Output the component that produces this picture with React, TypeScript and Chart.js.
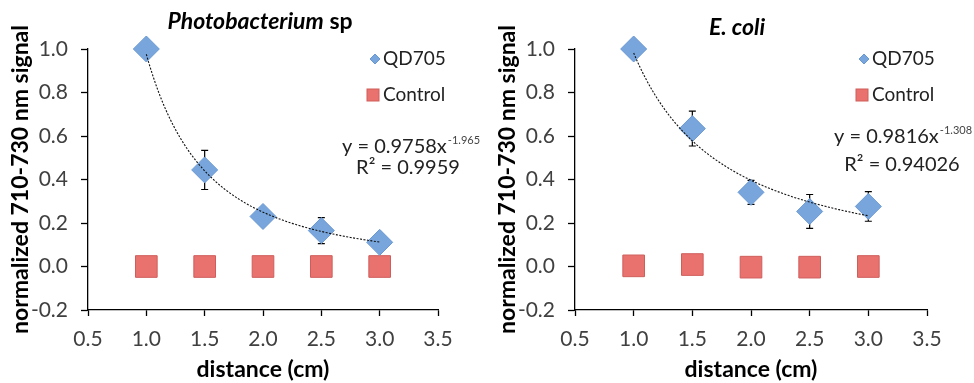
import React, { useEffect, useRef } from "react";
import { Chart, registerables } from "chart.js";

Chart.register(...registerables);

// ---------- data ----------
const distances = [1.0, 1.5, 2.0, 2.5, 3.0];

const photoQD705 = [1.0, 0.444, 0.23, 0.165, 0.111];
const photoQD705Err = [0, 0.09, 0.01, 0.06, 0.03];
const photoControl = [0.0, 0.0, 0.0, 0.0, 0.0];

const ecoliQD705 = [1.0, 0.634, 0.341, 0.253, 0.276];
const ecoliQD705Err = [0, 0.08, 0.055, 0.078, 0.068];
const ecoliControl = [0.003, 0.009, -0.003, -0.003, 0.0];

const photoFitA = 0.9758;
const photoFitB = -1.965;
const photoFitEq = "y = 0.9758x";
const photoFitExp = "-1.965";
const photoR2 = "R² = 0.9959";

const ecoliFitA = 0.9816;
const ecoliFitB = -1.308;
const ecoliFitEq = "y = 0.9816x";
const ecoliFitExp = "-1.308";
const ecoliR2 = "R² = 0.94026";

const seriesNames = ["QD705", "Control"];
const xAxisTitle = "distance (cm)";
const yAxisTitle = "normalized 710-730 nm signal";

const FONT = "Lato, 'Open Sans', sans-serif";
const QD_FILL = "#78a6dc";
const QD_BORDER = "#6a98d2";
const CT_FILL = "#e9726f";
const CT_BORDER = "#cf5e5b";

type TitlePart = { text: string; italic: boolean };

type Panel = {
  titleParts: TitlePart[];
  titleX: number;
  titleY: number;
  qd: number[];
  qdErr: number[];
  control: number[];
  fitA: number;
  fitB: number;
  eq: string;
  eqExp: string;
  r2: string;
  eqX: number;
  eqY: number;
  r2X: number;
  r2Y: number;
  padRight: number;
};

const panels: Panel[] = [
  {
    titleParts: [
      { text: "Photobacterium", italic: true },
      { text: " sp", italic: false },
    ],
    titleX: 260,
    titleY: 22,
    qd: photoQD705,
    qdErr: photoQD705Err,
    control: photoControl,
    fitA: photoFitA,
    fitB: photoFitB,
    eq: photoFitEq,
    eqExp: photoFitExp,
    r2: photoR2,
    eqX: 342,
    eqY: 147,
    r2X: 408,
    r2Y: 168,
    padRight: 49,
  },
  {
    titleParts: [{ text: "E. coli", italic: true }],
    titleX: 250,
    titleY: 28,
    qd: ecoliQD705,
    qdErr: ecoliQD705Err,
    control: ecoliControl,
    fitA: ecoliFitA,
    fitB: ecoliFitB,
    eq: ecoliFitEq,
    eqExp: ecoliFitExp,
    r2: ecoliR2,
    eqX: 347,
    eqY: 137,
    r2X: 415,
    r2Y: 165,
    padRight: 47,
  },
];

function fmt(v: any) {
  const n = Number(v);
  return (Math.abs(n) < 1e-9 ? 0 : n).toFixed(1);
}

function makeDecorPlugin(p: Panel) {
  return {
    id: "panelDecor",
    beforeDatasetsDraw(chart: any) {
      const ctx = chart.ctx as CanvasRenderingContext2D;
      const xs = chart.scales.x;
      const ys = chart.scales.y;
      ctx.save();
      // error bars (behind markers)
      ctx.strokeStyle = "#000";
      ctx.lineWidth = 1.2;
      distances.forEach((d, i) => {
        const e = p.qdErr[i];
        if (!e) return;
        const px = xs.getPixelForValue(d);
        const top = ys.getPixelForValue(p.qd[i] + e);
        const bot = ys.getPixelForValue(p.qd[i] - e);
        ctx.beginPath();
        ctx.moveTo(px, top);
        ctx.lineTo(px, bot);
        ctx.moveTo(px - 3.5, top);
        ctx.lineTo(px + 3.5, top);
        ctx.moveTo(px - 3.5, bot);
        ctx.lineTo(px + 3.5, bot);
        ctx.stroke();
      });
      ctx.restore();
    },
    afterDatasetsDraw(chart: any) {
      const ctx = chart.ctx as CanvasRenderingContext2D;
      const xs = chart.scales.x;
      const ys = chart.scales.y;
      ctx.save();
      // power-law trendline from the fitted equation
      const x0 = distances[0];
      const x1 = distances[distances.length - 1];
      ctx.setLineDash([2, 1.5]);
      ctx.lineWidth = 1.1;
      ctx.strokeStyle = "#111";
      ctx.beginPath();
      const n = 120;
      for (let k = 0; k <= n; k++) {
        const xv = x0 + ((x1 - x0) * k) / n;
        const yv = p.fitA * Math.pow(xv, p.fitB);
        const px = xs.getPixelForValue(xv);
        const py = ys.getPixelForValue(yv);
        if (k === 0) ctx.moveTo(px, py);
        else ctx.lineTo(px, py);
      }
      ctx.stroke();
      ctx.setLineDash([]);
      ctx.restore();
    },
    afterDraw(chart: any) {
      const ctx = chart.ctx as CanvasRenderingContext2D;
      const area = chart.chartArea;
      ctx.save();
      // title
      ctx.fillStyle = "#000";
      ctx.textBaseline = "middle";
      let total = 0;
      const widths = p.titleParts.map((tp) => {
        ctx.font = `${tp.italic ? "italic " : ""}bold 23px ${FONT}`;
        const w = ctx.measureText(tp.text).width;
        total += w;
        return w;
      });
      let tx = p.titleX - total / 2;
      p.titleParts.forEach((tp, i) => {
        ctx.font = `${tp.italic ? "italic " : ""}bold 23px ${FONT}`;
        ctx.textAlign = "left";
        ctx.fillText(tp.text, tx, p.titleY);
        tx += widths[i];
      });

      // legend
      const mx = area.right - 63;
      const tx2 = area.right - 55;
      const ly1 = 59;
      const ly2 = 95;
      ctx.fillStyle = QD_FILL;
      ctx.strokeStyle = QD_BORDER;
      ctx.lineWidth = 1;
      ctx.beginPath();
      ctx.moveTo(mx, ly1 - 5);
      ctx.lineTo(mx + 5, ly1);
      ctx.lineTo(mx, ly1 + 5);
      ctx.lineTo(mx - 5, ly1);
      ctx.closePath();
      ctx.fill();
      ctx.stroke();
      ctx.fillStyle = CT_FILL;
      ctx.strokeStyle = CT_BORDER;
      ctx.fillRect(mx - 8, ly2 - 6, 12, 12);
      ctx.strokeRect(mx - 8, ly2 - 6, 12, 12);
      ctx.fillStyle = "#222";
      ctx.font = `19px ${FONT}`;
      ctx.textAlign = "left";
      ctx.fillText(chart.data.datasets[0].label, tx2, ly1);
      ctx.fillText(chart.data.datasets[1].label, tx2, ly2);

      // equation
      ctx.font = `20px ${FONT}`;
      ctx.fillStyle = "#222";
      ctx.fillText(p.eq, p.eqX, p.eqY);
      const ew = ctx.measureText(p.eq).width;
      ctx.font = `11px ${FONT}`;
      ctx.fillStyle = "#444";
      ctx.fillText(p.eqExp, p.eqX + ew + 1, p.eqY - 7);
      ctx.font = `20px ${FONT}`;
      ctx.fillStyle = "#222";
      ctx.textAlign = "center";
      ctx.fillText(p.r2, p.r2X, p.r2Y);
      ctx.restore();
    },
  };
}

function ChartPanel({ p }: { p: Panel }) {
  const ref = useRef<HTMLCanvasElement | null>(null);
  useEffect(() => {
    if (!ref.current) return;
    const tickFont = { family: FONT, size: 21 };
    const titleFont = { family: FONT, size: 23, weight: "bold" as const };
    const chart = new Chart(ref.current, {
      type: "scatter",
      data: {
        datasets: [
          {
            label: seriesNames[0],
            data: distances.map((d, i) => ({ x: d, y: p.qd[i] })),
            pointStyle: "rectRot",
            pointRadius: 13,
            backgroundColor: QD_FILL,
            borderColor: QD_BORDER,
            borderWidth: 1,
            clip: false as any,
          },
          {
            label: seriesNames[1],
            data: distances.map((d, i) => ({ x: d, y: p.control[i] })),
            pointStyle: "rect",
            pointRadius: 15.3,
            backgroundColor: CT_FILL,
            borderColor: CT_BORDER,
            borderWidth: 1,
            clip: false as any,
          },
        ],
      },
      options: {
        responsive: false,
        animation: false,
        events: [],
        layout: { padding: { top: 49, right: p.padRight, left: 0, bottom: 0 } },
        plugins: {
          legend: { display: false },
          title: { display: false },
          tooltip: { enabled: false },
        },
        scales: {
          x: {
            type: "linear",
            min: 0.5,
            max: 3.5,
            afterFit: (axis: any) => {
              axis.height = 73;
            },
            ticks: {
              stepSize: 0.5,
              font: tickFont,
              color: "#404040",
              padding: 11,
              maxRotation: 0,
              callback: (v: any) => fmt(v),
            },
            grid: {
              drawOnChartArea: false,
              drawTicks: true,
              tickLength: 6,
              tickColor: "#000",
              tickWidth: 1.3,
            },
            border: { display: true, color: "#000", width: 1.3 },
            title: {
              display: true,
              text: xAxisTitle,
              font: titleFont,
              color: "#000",
              padding: { top: 0, bottom: 0 },
            },
          },
          y: {
            type: "linear",
            min: -0.2,
            max: 1.0,
            afterFit: (axis: any) => {
              axis.width = 88;
            },
            ticks: {
              stepSize: 0.2,
              font: tickFont,
              color: "#404040",
              padding: 13,
              callback: (v: any) => fmt(v),
            },
            grid: {
              drawOnChartArea: false,
              drawTicks: true,
              tickLength: 7,
              tickColor: "#000",
              tickWidth: 1.3,
            },
            border: { display: true, color: "#000", width: 1.3 },
            title: {
              display: true,
              text: yAxisTitle,
              font: titleFont,
              color: "#000",
              padding: { top: 7, bottom: 0 },
            },
          },
        },
      },
      plugins: [makeDecorPlugin(p)],
    });
    return () => chart.destroy();
  }, [p]);
  return <canvas ref={ref} width={487} height={383} style={{ display: "block" }} />;
}

export default function App() {
  return (
    <div
      style={{
        position: "fixed",
        left: 0,
        top: 0,
        width: 974,
        height: 383,
        display: "flex",
        background: "#fff",
      }}
    >
      {panels.map((p, i) => (
        <ChartPanel key={i} p={p} />
      ))}
    </div>
  );
}
